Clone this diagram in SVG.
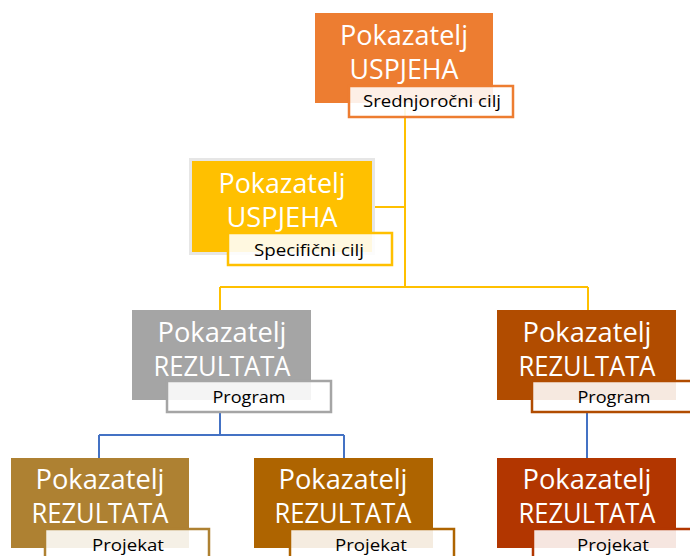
<svg xmlns="http://www.w3.org/2000/svg" width="690" height="556" viewBox="0 0 690 556">
<style>
.main{font-family:"Open Sans","Noto Sans","Liberation Sans",sans-serif;font-size:27px;fill:#ffffff;text-anchor:middle}
.lab{font-family:"Open Sans","Noto Sans","Liberation Sans",sans-serif;font-size:16px;fill:#000000;text-anchor:middle}
.lbox{fill:#ffffff;fill-opacity:0.88;stroke-width:2.5}
.conn{fill:none;stroke-width:2}
</style>
<rect width="690" height="556" fill="#ffffff"/>
<g id="connectors">
<path class="conn" stroke="#FFC000" d="M405 103 V287 M374 207 H405 M220 287 H588 M220 287 V310 M588 287 V310"/>
<path class="conn" stroke="#4472C4" d="M220 412 V435 M99 435 H344 M99 435 V458 M344 435 V458 M587 412 V458"/>
</g>
<g id="node-top">
<rect x="315" y="13" width="178" height="90" fill="#ED7D31"/>
<text class="main" x="404" y="45" textLength="128" lengthAdjust="spacingAndGlyphs">Pokazatelj</text>
<text class="main" x="404" y="79" textLength="109" lengthAdjust="spacingAndGlyphs">USPJEHA</text>
<rect class="lbox" x="349" y="86" width="164" height="31" stroke="#ED7D31"/>
<text class="lab" x="432" y="107" textLength="138" lengthAdjust="spacingAndGlyphs">Srednjoročni cilj</text>
</g>
<g id="node-specific">
<rect x="190.5" y="159.5" width="183" height="94" fill="#FFC000" stroke="#E6E6E6" stroke-width="3"/>
<text class="main" x="282" y="193" textLength="127" lengthAdjust="spacingAndGlyphs">Pokazatelj</text>
<text class="main" x="282" y="227" textLength="111" lengthAdjust="spacingAndGlyphs">USPJEHA</text>
<rect class="lbox" x="228" y="233" width="164" height="32" stroke="#FFC000"/>
<text class="lab" x="309" y="256" textLength="110" lengthAdjust="spacingAndGlyphs">Specifični cilj</text>
</g>
<g id="node-program1">
<rect x="132" y="310" width="179" height="90" fill="#A5A5A5"/>
<text class="main" x="222" y="342" textLength="129" lengthAdjust="spacingAndGlyphs">Pokazatelj</text>
<text class="main" x="222" y="376" textLength="137" lengthAdjust="spacingAndGlyphs">REZULTATA</text>
<rect class="lbox" x="167" y="381" width="164" height="31" stroke="#A5A5A5"/>
<text class="lab" x="249" y="403" textLength="73" lengthAdjust="spacingAndGlyphs">Program</text>
</g>
<g id="node-program2">
<rect x="497" y="310" width="179" height="90" fill="#B14C00"/>
<text class="main" x="587" y="342" textLength="129" lengthAdjust="spacingAndGlyphs">Pokazatelj</text>
<text class="main" x="587" y="376" textLength="137" lengthAdjust="spacingAndGlyphs">REZULTATA</text>
<rect class="lbox" x="532" y="381" width="164" height="31" stroke="#B14C00"/>
<text class="lab" x="614" y="403" textLength="73" lengthAdjust="spacingAndGlyphs">Program</text>
</g>
<g id="node-project1">
<rect x="11" y="458" width="178" height="90" fill="#AE8132"/>
<text class="main" x="100" y="489" textLength="129" lengthAdjust="spacingAndGlyphs">Pokazatelj</text>
<text class="main" x="100" y="523" textLength="137" lengthAdjust="spacingAndGlyphs">REZULTATA</text>
<rect class="lbox" x="45" y="529" width="164" height="32" stroke="#AE8132"/>
<text class="lab" x="128" y="551" textLength="72" lengthAdjust="spacingAndGlyphs">Projekat</text>
</g>
<g id="node-project2">
<rect x="254" y="458" width="179" height="90" fill="#AE6400"/>
<text class="main" x="343" y="489" textLength="129" lengthAdjust="spacingAndGlyphs">Pokazatelj</text>
<text class="main" x="343" y="523" textLength="137" lengthAdjust="spacingAndGlyphs">REZULTATA</text>
<rect class="lbox" x="290" y="529" width="164" height="32" stroke="#AE6400"/>
<text class="lab" x="371" y="551" textLength="72" lengthAdjust="spacingAndGlyphs">Projekat</text>
</g>
<g id="node-project3">
<rect x="497" y="458" width="179" height="90" fill="#B23600"/>
<text class="main" x="587" y="489" textLength="129" lengthAdjust="spacingAndGlyphs">Pokazatelj</text>
<text class="main" x="587" y="523" textLength="137" lengthAdjust="spacingAndGlyphs">REZULTATA</text>
<rect class="lbox" x="533" y="529" width="164" height="32" stroke="#B23600"/>
<text class="lab" x="613" y="551" textLength="72" lengthAdjust="spacingAndGlyphs">Projekat</text>
</g>
</svg>
